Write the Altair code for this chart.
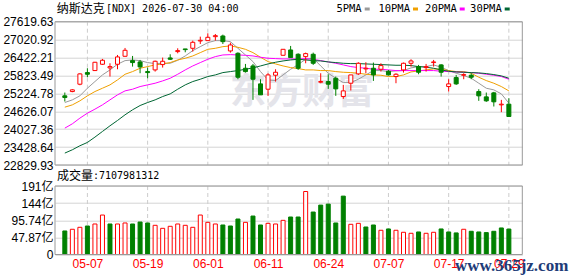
import json
import altair as alt
import pandas as pd

# ---------------- data ----------------
dates = ["05-04", "05-05", "05-06", "05-07", "05-08", "05-11", "05-12", "05-13", "05-14", "05-15",
         "05-18", "05-19", "05-20", "05-21", "05-22", "05-26", "05-27", "05-28", "05-29", "06-01",
         "06-02", "06-03", "06-04", "06-05", "06-08", "06-09", "06-10", "06-11", "06-12", "06-15",
         "06-16", "06-17", "06-18", "06-22", "06-23", "06-24", "06-25", "06-26", "06-29", "06-30",
         "07-01", "07-02", "07-06", "07-07", "07-08", "07-09", "07-10", "07-13", "07-14", "07-15",
         "07-16", "07-17", "07-20", "07-21", "07-22", "07-23", "07-24", "07-27", "07-28", "07-29"]

opens = [25141, 25285, 25530, 25919, 25986, 26197, 26075, 26197, 26464, 26319,
         26275, 25952, 26008, 26186, 26408, 26620, 26709, 26731, 26975, 26987,
         27120, 27142, 26642, 26564, 26064, 26141, 25541, 25363, 25830, 26497,
         26675, 26531, 26453, 26531, 25597, 25619, 25730, 25118, 25563, 25875,
         26041, 26064, 26030, 25964, 25786, 26008, 26230, 26119, 26086, 26253,
         26175, 25452, 25752, 25830, 25830, 25285, 25107, 25241, 24840, 24863]
highs = [25252, 25363, 25897, 26064, 26275, 26375, 26230, 26508, 26742, 26475,
         26342, 26086, 26319, 26420, 26531, 26731, 26709, 26987, 27120, 27231,
         27209, 27187, 26920, 26597, 26208, 26208, 25697, 25897, 26030, 26697,
         26809, 26564, 26586, 26586, 25897, 25863, 25786, 25508, 25841, 26264,
         26264, 26253, 26230, 26008, 25897, 26253, 26364, 26175, 26208, 26342,
         26197, 25697, 25841, 25897, 25897, 25363, 25252, 25274, 25007, 25063]
lows = [24952, 25263, 25496, 25763, 25975, 26175, 25786, 26030, 26453, 26119,
        25897, 25730, 25952, 26086, 26342, 26564, 26597, 26620, 26875, 26987,
        26987, 26875, 26586, 25697, 25919, 25007, 25174, 25141, 25619, 26497,
        26420, 26008, 26230, 26175, 25563, 25374, 25141, 25041, 25319, 25841,
        25897, 25641, 25952, 25819, 25563, 25919, 26119, 25863, 25952, 26119,
        25786, 25285, 25508, 25697, 25697, 24974, 24941, 24785, 24596, 24451]
closes = [25085, 25341, 25875, 25863, 26264, 26331, 26119, 26442, 26664, 26253,
          26108, 25919, 26297, 26297, 26364, 26653, 26686, 26931, 26998, 27098,
          27153, 26953, 26842, 25763, 25952, 25697, 25174, 25841, 25930, 26697,
          26420, 26064, 26553, 26230, 25619, 25530, 25374, 25307, 25841, 26230,
          26064, 25841, 26153, 25841, 25863, 26230, 26308, 25930, 26119, 26275,
          25930, 25541, 25541, 25852, 25763, 25141, 24974, 24941, 24863, 24451]

ma5 = [24918, 25007, 25141, 25396, 25619, 25841, 26008, 26197, 26319, 26342,
       26319, 26253, 26219, 26230, 26230, 26330, 26475, 26653, 26786, 26920,
       26987, 26987, 26953, 26731, 26508, 26286, 25952, 25674, 25652, 25841,
       26030, 26186, 26364, 26397, 26141, 25897, 25730, 25585, 25585, 25697,
       25841, 25986, 25986, 25952, 25975, 25986, 26075, 26119, 26119, 26175,
       26097, 25986, 25897, 25819, 25730, 25563, 25396, 25341, 25207, 24896]
ma10 = [24763, 24840, 24974, 25141, 25285, 25396, 25508, 25674, 25863, 25952,
        26064, 26119, 26175, 26208, 26253, 26342, 26397, 26475, 26586, 26697,
        26731, 26786, 26809, 26764, 26697, 26586, 26431, 26286, 26208, 26141,
        26086, 26052, 26008, 26008, 25986, 25986, 25952, 25930, 25919, 25897,
        25863, 25841, 25830, 25786, 25786, 25841, 25941, 25975, 26008, 26041,
        26030, 25986, 25952, 25952, 25897, 25763, 25652, 25563, 25452, 25307]
ma20 = [24062, 24207, 24396, 24562, 24696, 24840, 25007, 25174, 25307, 25363,
        25452, 25508, 25563, 25641, 25730, 25863, 26008, 26141, 26253, 26364,
        26453, 26508, 26519, 26508, 26497, 26475, 26431, 26397, 26386, 26375,
        26375, 26375, 26386, 26364, 26319, 26275, 26230, 26175, 26119, 26086,
        26064, 26030, 26030, 26008, 25986, 25986, 25986, 25986, 25986, 25986,
        25964, 25952, 25941, 25930, 25919, 25897, 25863, 25830, 25786, 25697]
ma30 = [23228, 23339, 23473, 23584, 23762, 23951, 24140, 24318, 24507, 24674,
        24818, 24918, 25007, 25118, 25207, 25363, 25508, 25619, 25697, 25786,
        25841, 25919, 25952, 25986, 26030, 26075, 26141, 26208, 26264, 26308,
        26342, 26364, 26342, 26319, 26308, 26275, 26253, 26230, 26219, 26219,
        26208, 26197, 26186, 26175, 26164, 26164, 26153, 26119, 26097, 26064,
        26008, 25964, 25941, 25930, 25919, 25908, 25886, 25852, 25808, 25730]

# volume in 亿
volumes = [65.8, 70.5, 76.0, 79.7, 85.3, 110.3, 85.3, 85.3, 88.1, 85.3,
           90.8, 88.1, 81.6, 73.2, 78.8, 85.3, 81.6, 76.0, 110.3, 89.9,
           85.3, 82.5, 79.7, 99.2, 89.9, 107.5, 82.5, 87.1, 85.3, 95.5,
           104.8, 104.8, 176.1, 118.7, 138.1, 140.9, 88.1, 163.2, 84.4, 87.1,
           76.9, 82.5, 67.7, 71.4, 67.7, 62.1, 59.3, 63.0, 59.3, 62.1,
           71.4, 63.0, 60.3, 70.5, 64.9, 63.0, 61.2, 64.9, 74.2, 71.08]
vol_up = [0, 1, 1, 0, 1, 1, 0, 1, 1, 0,
          0, 0, 1, 1, 1, 1, 1, 1, 1, 1,
          1, 0, 0, 0, 1, 0, 0, 1, 1, 1,
          0, 0, 1, 0, 0, 0, 0, 0, 1, 1,
          0, 0, 1, 0, 1, 1, 1, 0, 1, 1,
          0, 0, 0, 1, 0, 0, 0, 0, 0, 0]

price_ticks = [22829.93, 23428.64, 24027.36, 24626.07, 25224.78,
               25823.49, 26422.21, 27020.92, 27619.63]
vol_ticks = [0, 47.87, 95.74, 143.61, 191.48]
vol_tick_labels = ["0", "47.87亿", "95.74亿", "144亿", "191亿"]
date_tick_idx = [3, 11, 19, 27, 35, 43, 51, 59]

title_cn = "纳斯达克"
title_code = "[NDX] 2026-07-30 04:00"
vol_title_cn = "成交量"
vol_title_num = ":7107981312"
legend_names = ["5PMA", "10PMA", "20PMA", "30PMA"]

# ---------------- styles / layout ----------------
RED = "#ff0000"
GREEN = "#008000"
MA_COLORS = ["#9a9a9a", "#f0a000", "#ff00ff", "#006633"]
NUM_FONT = "Liberation Sans"
MONO = "DejaVu Sans Mono"
CJK = "Noto Sans CJK SC"
GRID_V = "#cccccc"
GRID_H = "#d4d4d4"
FRAME = "#999999"

PAD_L, PAD_T = 55, 21.7
W = 467.3             # plot width
H_TOP = 143.3         # price panel height
VOL_TOP = 164.3       # volume panel top (inside the view)
VOL_BOT = 232.8       # volume panel bottom
H_ALL = VOL_BOT

n = len(dates)
idx = list(range(n))

candles = pd.DataFrame({
    "i": idx, "open": opens, "high": highs, "low": lows, "close": closes,
})
candles["dir"] = ["up" if c >= o else "down" for o, c in zip(opens, closes)]
candles["lo"] = [min(o, c) for o, c in zip(opens, closes)]
candles["hi"] = [max(o, c) for o, c in zip(opens, closes)]

ma = pd.DataFrame({"i": idx, "ma5": ma5, "ma10": ma10, "ma20": ma20, "ma30": ma30})

vol = pd.DataFrame({"i": idx, "vol": volumes,
                    "dir": ["up" if u else "down" for u in vol_up]})
ticks_df = pd.DataFrame({"i": date_tick_idx})

x_scale = alt.Scale(domain=[-0.641, 60.12], nice=False, zero=False)
price_scale = alt.Scale(domain=[price_ticks[0], price_ticks[-1]], range=[H_TOP, 0],
                        nice=False, zero=False)
vol_scale = alt.Scale(domain=[vol_ticks[0], vol_ticks[-1]], range=[VOL_BOT, VOL_TOP],
                      nice=False, zero=True)
stroke_scale = alt.Scale(domain=["up", "down"], range=[RED, GREEN])
fill_scale = alt.Scale(domain=["up", "down"], range=["#ffffff", GREEN])

date_expr = json.dumps(dates) + "[datum.value]"
x_axis = alt.Axis(values=date_tick_idx, labelExpr=date_expr, ticks=False, domain=False,
                  grid=False, labelColor=RED, labelFont=NUM_FONT, labelFontSize=12,
                  labelPadding=4, title=None)
y_price_axis = alt.Axis(values=price_ticks, format=".2f", ticks=False, domain=False,
                        grid=True, gridColor=GRID_H, gridWidth=1, orient="left",
                        labelColor="#000000", labelFont=NUM_FONT, labelFontSize=12,
                        labelPadding=2, title=None)
vol_label_expr = json.dumps(vol_tick_labels) + "[indexof(" + json.dumps(vol_ticks) + ", datum.value)]"
y_vol_axis = alt.Axis(values=vol_ticks, labelExpr=vol_label_expr, ticks=False, domain=False,
                      grid=True, gridColor=GRID_H, gridWidth=1, orient="left",
                      labelColor="#000000", labelFont=NUM_FONT + ", " + CJK, labelFontSize=12,
                      labelPadding=2, title=None)


def X():
    return alt.X("i:Q", scale=x_scale, axis=x_axis)


def Yp(field, axis=None):
    return alt.Y(field + ":Q", scale=price_scale, axis=axis)


def label(text, x, y, **kw):
    return alt.Chart(pd.DataFrame({"t": [text]})).mark_text(**kw).encode(
        x=alt.value(x), y=alt.value(y), text="t:N")


def frame(y0, y1):
    return alt.Chart(pd.DataFrame({"t": [0]})).mark_rect(
        fill="transparent", stroke=FRAME, strokeWidth=1).encode(
        x=alt.value(0), x2=alt.value(W), y=alt.value(y0), y2=alt.value(y1))


# dashed vertical grid in both panels
vgrid_top = alt.Chart(ticks_df).mark_rule(color=GRID_V, strokeWidth=1, strokeDash=[4, 3]).encode(
    x=X(), y=alt.value(0), y2=alt.value(H_TOP))
vgrid_bot = alt.Chart(ticks_df).mark_rule(color=GRID_V, strokeWidth=1, strokeDash=[4, 3]).encode(
    x=X(), y=alt.value(VOL_TOP), y2=alt.value(VOL_BOT))

watermark = label("东方财富", 175, 71, align="left", baseline="middle", font=CJK,
                  fontSize=36, fontWeight="bold", color="#e4e4ea")

ma_layers = []
for field, col in zip(["ma5", "ma10", "ma20", "ma30"], MA_COLORS):
    ma_layers.append(
        alt.Chart(ma).mark_line(strokeWidth=1, color=col).encode(x=X(), y=Yp(field))
    )

wicks = alt.Chart(candles).mark_rule(strokeWidth=1).encode(
    x=X(), y=Yp("low", y_price_axis), y2="high:Q",
    stroke=alt.Stroke("dir:N", scale=stroke_scale, legend=None))

bodies = alt.Chart(candles).mark_bar(size=4, strokeWidth=1).encode(
    x=X(), y=Yp("lo"), y2="hi:Q",
    fill=alt.Fill("dir:N", scale=fill_scale, legend=None),
    stroke=alt.Stroke("dir:N", scale=stroke_scale, legend=None))

vol_bars = alt.Chart(vol).mark_bar(size=4, strokeWidth=1).encode(
    x=X(), y=alt.Y("vol:Q", scale=vol_scale, axis=y_vol_axis),
    fill=alt.Fill("dir:N", scale=fill_scale, legend=None),
    stroke=alt.Stroke("dir:N", scale=stroke_scale, legend=None))

title1 = label(title_cn, 1.7, -12.7, align="left", baseline="middle", font=CJK,
               fontSize=12, color="#000000")
title2 = label(title_code, 51, -12.7, align="left", baseline="middle", font=MONO,
               fontSize=10, color="#000000")

legend_layers = []
swatches = [(309.7, 314.7), (358.0, 363.0), (404.7, 409.7), (449.7, 454.7)]
for name, col, (a, b) in zip(legend_names, MA_COLORS, swatches):
    legend_layers.append(label(name, a - 3, -12.7, align="right", baseline="middle",
                               font=MONO, fontSize=10.5, color="#000000"))
    legend_layers.append(
        alt.Chart(pd.DataFrame({"t": [name]})).mark_rule(strokeWidth=3, color=col).encode(
            x=alt.value(a), x2=alt.value(b), y=alt.value(-12.7))
    )

vt1 = label(vol_title_cn, 2, 154.3, align="left", baseline="middle", font=CJK,
            fontSize=12, color="#000000")
vt2 = label(vol_title_num, 38, 154.3, align="left", baseline="middle", font=MONO,
            fontSize=10, color="#000000")
site = label("www.365jz.com", 400, 244.3, align="left", baseline="middle",
             font="Liberation Serif", fontSize=17, fontWeight="bold", color="#1e3c78")

chart = alt.layer(
    vgrid_top, vgrid_bot, watermark, *ma_layers, wicks, bodies, vol_bars,
    frame(0, H_TOP), frame(VOL_TOP, VOL_BOT),
    title1, title2, *legend_layers, vt1, vt2, site,
).resolve_scale(y="independent").properties(
    width=W, height=H_ALL,
    autosize=alt.AutoSizeParams(type="none"),
    padding={"left": PAD_L, "top": PAD_T, "right": 578 - PAD_L - W,
             "bottom": 276 - PAD_T - H_ALL},
).configure_view(stroke=None)

chart.save("out.html", embed_options={"renderer": "svg", "actions": False})
